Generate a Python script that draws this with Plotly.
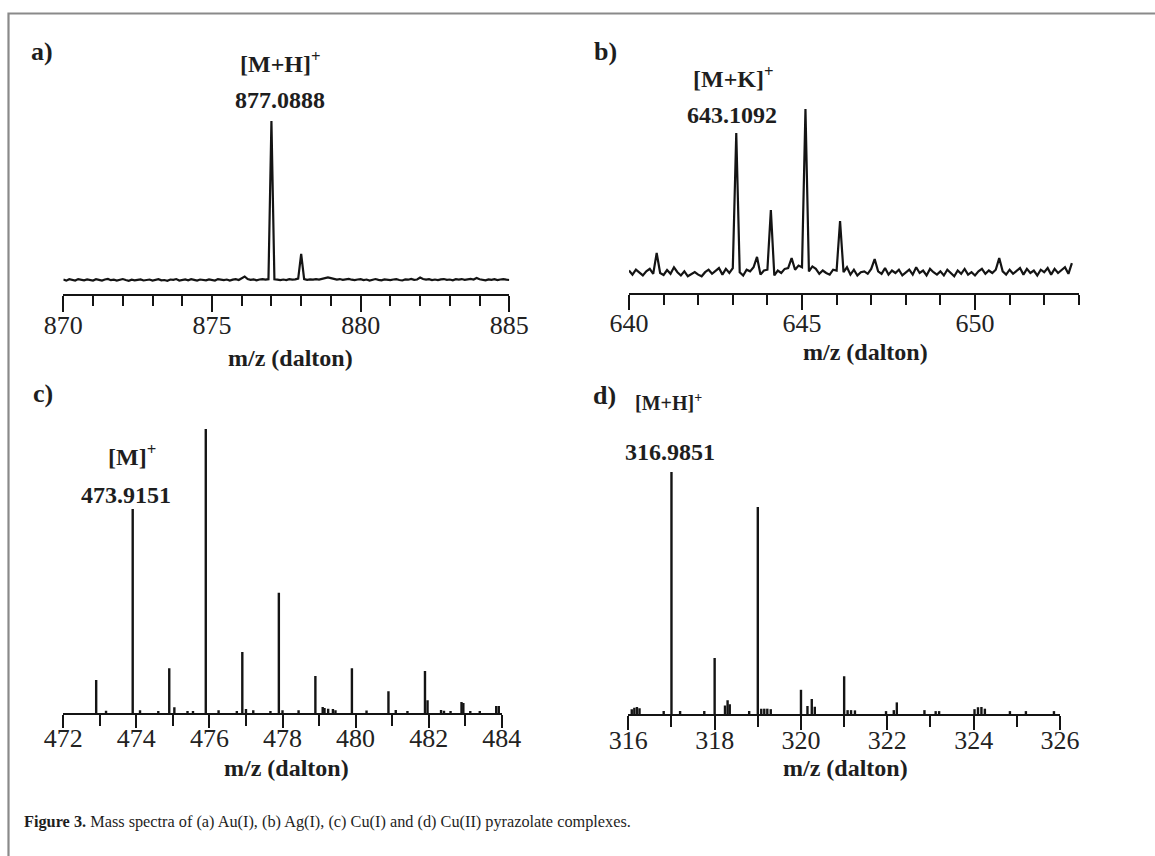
import plotly.graph_objects as go

W, H = 1155, 856
SERIF = "Liberation Serif"
INK = "#141414"

# ---------------- data ----------------
# (a) Au(I): continuous spectrum on a 0.1 m/z grid starting at 870.0
a_start, a_step = 870.0, 0.1
a_int = [
    0.3, -0.4, 0.5, 0.1, -0.3, 0.6, 0.2, -0.2, 0.4, 0.0,
    -0.3, 0.5, 0.2, -0.4, 0.3, 0.7, -0.1, 0.2, -0.3, 0.1,
    0.6, 0.0, -0.5, 0.2, -0.2, 0.1, 0.4, -0.3, -0.1, 0.3,
    -0.4, 0.2, 0.5, -0.2, 0.0, -0.5, 0.3, 0.1, 0.6, -0.3,
    0.2, 0.4, -0.2, 0.5, 0.1, -0.4, 0.3, 0.0, -0.2, 0.4,
    0.1, -0.3, 0.6, 0.2, -0.1, 0.3, -0.4, 0.2, 0.5, 0.0,
    1.2, 2.2, 0.6, 0.1, 0.4, -0.2, 0.3, 0.6, 0.2, 0.5,
    100.0, 0.4, 0.2, -0.1, 0.3, 0.0, 0.5, 0.2, 0.4, 0.9,
    16.4, 0.6, 0.1, 0.4, 0.2, 0.6, 0.3, 0.8, 1.0, 1.6,
    1.2, 0.7, 0.3, 0.6, 0.1, 0.4, 0.7, 0.2, -0.1, 0.3,
    0.5, 0.0, 0.3, -0.3, 0.2, 0.6, 0.1, -0.2, 0.4, 0.2,
    -0.1, 0.3, 0.5, 0.0, -0.3, 0.4, 0.2, 0.7, 0.1, 0.3,
    1.5, 0.6, 0.2, 0.5, -0.1, 0.3, 0.0, 0.4, 0.6, 0.1,
    0.3, -0.2, 0.5, 0.2, 0.6, 0.1, 0.4, 0.7, 0.3, 1.3,
    0.5, 0.2, -0.2, 0.4, 0.1, 0.5, -0.1, 0.3, 0.6, 0.2,
    0.0,
]

# (b) Ag(I): continuous spectrum on a 0.1 m/z grid starting at 640.0
b_start, b_step = 640.0, 0.1
b_int = [
    1.5, -1.0, 2.0, 0.5, -1.5, 1.0, 2.5, -0.5, 12.2, 0.0,
    -1.2, 1.8, -0.5, 3.5, 0.5, -1.5, 1.0, -2.0, -0.8, 0.6,
    -1.0, -2.0, 0.5, 2.0, -0.5, 1.5, 3.0, -1.0, 2.5, 0.0,
    3.0, 85.4, 0.5, -1.5, 2.0, 1.0, 3.5, 9.8, -1.0, 1.5,
    2.0, 38.4, -1.5, 1.5, 0.0, 2.5, 3.0, 9.1, 2.0, 4.5,
    3.5, 100.0, 1.0, 4.0, 2.5, -0.5, 1.5, 0.0, -1.0, 2.0,
    1.5, 31.7, 0.5, 3.5, -1.0, 2.0, -1.5, 0.5, 1.0, -0.5,
    2.5, 8.5, 1.0, -0.5, 3.0, -1.0, 1.5, 0.0, 2.0, -1.5,
    0.5, 2.0, -1.0, 3.5, 0.0, 1.5, -1.5, 2.5, 0.5, -1.0,
    1.0, -1.5, 2.0, 0.0, -2.0, 1.5, -0.5, 2.5, -1.0, 0.5,
    -1.5, 1.0, 2.5, -0.5, 1.5, 0.0, 2.0, 9.1, 1.0, -1.0,
    2.0, -0.5, 1.5, 3.0, -1.0, 2.5, 0.0, 1.5, -1.5, 2.0,
    0.5, 3.0, -1.0, 2.5, 0.0, 1.5, 3.5, -0.5, 6.0,
]

# (c) Cu(I): stick spectrum
c_mz = [472.9, 473.17, 473.9, 474.1, 474.6, 474.9, 475.04, 475.4, 475.55,
        475.9, 476.25, 476.75, 476.9, 477.0, 477.2, 477.67, 477.9, 478.0,
        478.44, 478.9, 479.1, 479.15, 479.25, 479.38, 479.45, 479.9, 480.3,
        480.9, 481.1, 481.42, 481.9, 481.97, 482.34, 482.42, 482.6, 482.9,
        482.95, 483.14, 483.4, 483.85, 483.92]
c_int = [11.6, 0.8, 71.8, 1.0, 0.7, 15.8, 2.0, 0.7, 0.7,
         100.0, 1.0, 0.7, 21.5, 1.4, 1.0, 0.7, 42.3, 1.0,
         1.0, 13.0, 2.1, 1.8, 1.5, 1.4, 1.0, 15.8, 0.9,
         7.7, 1.1, 0.7, 14.8, 4.5, 1.1, 0.8, 0.7, 3.9,
         3.5, 0.7, 0.7, 2.5, 2.5]

# (d) Cu(II): stick spectrum
d_mz = [316.08, 316.14, 316.2, 316.26, 316.82, 317.0, 317.2, 317.76, 318.0,
        318.24, 318.3, 318.35, 318.8, 319.0, 319.08, 319.15, 319.22, 319.3,
        320.0, 320.15, 320.25, 320.32, 321.0, 321.08, 321.16, 321.25, 321.97,
        322.15, 322.22, 322.86, 323.12, 323.2, 324.02, 324.1, 324.18, 324.26,
        324.84, 325.21, 325.86]
d_int = [2.0, 2.6, 2.9, 2.4, 1.2, 100.0, 1.2, 1.2, 23.1,
         3.5, 5.7, 4.0, 1.2, 85.5, 2.2, 2.2, 2.2, 2.0,
         10.0, 3.3, 6.2, 3.0, 15.6, 1.6, 1.6, 1.5, 1.2,
         1.6, 4.8, 1.6, 1.2, 1.2, 2.0, 2.8, 2.9, 2.2,
         1.2, 1.2, 1.2]

ion_labels = ["[M+H]<sup>+</sup>", "[M+K]<sup>+</sup>", "[M]<sup>+</sup>", "[M+H]<sup>+</sup>"]
mass_labels = ["877.0888", "643.1092", "473.9151", "316.9851"]
panel_tags = ["a)", "b)", "c)", "d)"]
axis_title = "m/z (dalton)"
caption = ("<b>Figure 3.</b> Mass spectra of (a) Au(I), (b) Ag(I), (c) Cu(I) "
           "and (d) Cu(II) pyrazolate complexes.")


# ---------------- helpers ----------------
def px(x):
    return x / W


def py(y):
    return 1 - y / H


def grid(start, step, n):
    return [round(start + i * step, 3) for i in range(n)]


def sticks(mz, inten):
    xs, ys = [], []
    for m, v in zip(mz, inten):
        xs += [m, m, None]
        ys += [0, v, None]
    return xs, ys


fig = go.Figure()

fig.add_trace(go.Scatter(x=grid(a_start, a_step, len(a_int)), y=a_int, mode="lines",
                         line=dict(color=INK, width=2.2), xaxis="x", yaxis="y",
                         hoverinfo="skip", showlegend=False))
fig.add_trace(go.Scatter(x=grid(b_start, b_step, len(b_int)), y=b_int, mode="lines",
                         line=dict(color=INK, width=2.2), xaxis="x2", yaxis="y2",
                         hoverinfo="skip", showlegend=False))
cx, cy = sticks(c_mz, c_int)
fig.add_trace(go.Scatter(x=cx, y=cy, mode="lines", line=dict(color=INK, width=2.4),
                         xaxis="x3", yaxis="y3", hoverinfo="skip", showlegend=False))
dx, dy = sticks(d_mz, d_int)
fig.add_trace(go.Scatter(x=dx, y=dy, mode="lines", line=dict(color=INK, width=2.4),
                         xaxis="x4", yaxis="y4", hoverinfo="skip", showlegend=False))


def xaxis(domain, rng, dtick, tick0, major_len, minor_len, anchor, standoff):
    return dict(domain=domain, range=rng, anchor=anchor, showline=True, automargin=False,
                linecolor=INK, linewidth=2.3, showgrid=False, zeroline=False,
                ticks="outside", ticklen=major_len, tickwidth=2.3, tickcolor=INK,
                dtick=dtick, tick0=tick0, ticklabelstandoff=standoff,
                tickfont=dict(family=SERIF, size=26, color="#222"),
                minor=dict(dtick=1, tick0=tick0, ticks="outside", ticklen=minor_len,
                           tickwidth=2.3, tickcolor=INK, showgrid=False),
                fixedrange=True)


def yaxis(domain, rng, anchor):
    return dict(domain=domain, range=rng, anchor=anchor, visible=False, automargin=False,
                showgrid=False, zeroline=False, fixedrange=True)


fig.update_layout(
    width=W, height=H, margin=dict(l=0, r=0, t=0, b=0, autoexpand=False),
    paper_bgcolor="white", plot_bgcolor="white",
    xaxis=xaxis([px(63.3), px(509.3)], [870, 885], 5, 870, 16, 10, "y", -9),
    yaxis=yaxis([py(294), py(111)], [-8.8, 106.3], "x"),
    xaxis2=xaxis([px(629), px(1078.8)], [640, 653], 5, 640, 15, 10, "y2", -9),
    yaxis2=yaxis([py(293), py(100)], [-12.2, 105.5], "x2"),
    xaxis3=xaxis([px(63.3), px(501.7)], [472, 484], 2, 472, 13, 11, "y3", -12),
    yaxis3=yaxis([py(713), py(429)], [0, 100], "x3"),
    xaxis4=xaxis([px(628.3), px(1060)], [316, 326], 2, 316, 14, 11, "y4", -12),
    yaxis4=yaxis([py(714), py(472)], [0, 100], "x4"),
)

ann = []


def label(text, x, y, size, bold=True, anchor="center"):
    ann.append(dict(text=f"<b>{text}</b>" if bold else text, x=px(x), y=py(y),
                    xref="paper", yref="paper", xanchor=anchor, yanchor="middle",
                    showarrow=False, font=dict(family=SERIF, size=size, color="#1e1e1e")))


# panel tags
for t, (x, y) in zip(panel_tags, [(42, 52), (605, 52), (43, 393), (604, 395)]):
    label(t, x, y, 26)
# ion labels
for t, (x, y), s in zip(ion_labels, [(280, 62), (733, 77), (132, 455), (668, 402)],
                        [24, 24, 24, 20]):
    label(t, x, y, s)
# exact masses
for t, (x, y) in zip(mass_labels, [(280, 100), (732, 115), (126, 495), (670, 452)]):
    label(t, x, y, 24)
# axis titles
for (x, y) in [(290, 358), (865, 352), (286, 768), (845, 768)]:
    label(axis_title, x, y, 24)

ann.append(dict(text=caption, x=px(22), y=py(821), xref="paper", yref="paper",
                xanchor="left", yanchor="middle", showarrow=False,
                font=dict(family=SERIF, size=16.3, color="#1e1e1e")))
fig.update_layout(annotations=ann)

# frame of the figure box: open to the right and bottom (those edges lie off the page)
fig.update_layout(shapes=[
    dict(type="rect", xref="paper", yref="paper", x0=px(8.5), x1=1.02,
         y0=-0.02, y1=py(13.5), fillcolor="rgba(0,0,0,0)",
         line=dict(color="#8a8a8a", width=2.2), layer="below"),
])

fig.write_html(
    "out.html", config={"displayModeBar": False},
    post_script=("document.body.style.margin='0';"
                 "document.body.style.overflow='hidden';"
                 "document.documentElement.style.overflow='hidden';"),
)
